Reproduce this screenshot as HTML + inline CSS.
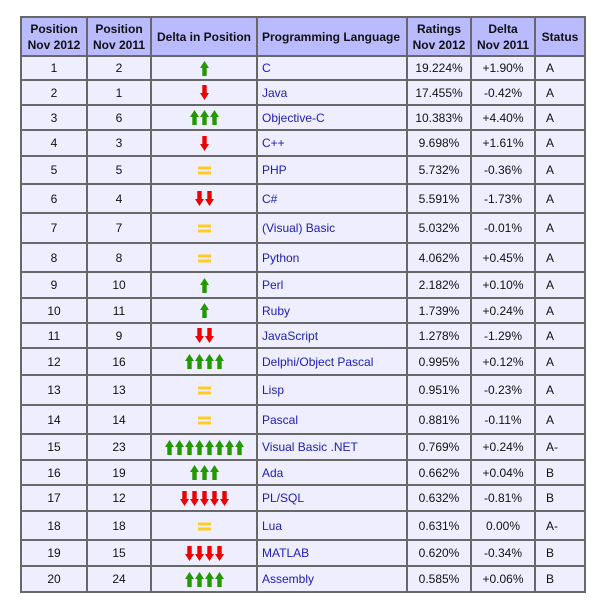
<!DOCTYPE html><html><head><meta charset="utf-8"><style>
body{margin:0;background:#fff;font-family:"Liberation Sans",Arial,sans-serif;}
table{position:absolute;left:20px;top:16px;width:564px;border-collapse:collapse;table-layout:fixed;font-size:12px;}
td,th{border:2px solid #686868;padding:0;text-align:center;color:#111;}
th{background:#babaff;font-weight:bold;font-size:12px;line-height:16px;height:37px;}
td{background:#eeeeff;}
td.l{text-align:left;padding-left:4px;color:#2020b0;}
td.s{text-align:left;padding-left:10px;}
svg{vertical-align:middle;margin:0 .5px;}
</style></head><body>
<svg width="0" height="0" style="position:absolute"><defs>
<symbol id="u" viewBox="0 0 9 15"><polygon points="4.5,0 9,7 6.7,7 6.7,15 2.3,15 2.3,7 0,7" fill="#229900"/></symbol>
<symbol id="d" viewBox="0 0 9 15"><polygon points="4.5,15 9,8 6.7,8 6.7,0 2.3,0 2.3,8 0,8" fill="#ee0000"/></symbol>
<symbol id="e" viewBox="0 0 13 9"><rect x="0" y="0.5" width="13" height="3" fill="#ffcc22"/><rect x="0" y="5.5" width="13" height="3" fill="#ffcc22"/></symbol>
</defs></svg>
<table>
<colgroup><col style="width:66px"><col style="width:64px"><col style="width:106px"><col style="width:150px"><col style="width:64px"><col style="width:64px"><col style="width:50px"></colgroup>
<tr><th>Position<br>Nov 2012</th><th>Position<br>Nov 2011</th><th>Delta in Position</th><th style="text-align:left;padding-left:4px">Programming Language</th><th>Ratings<br>Nov 2012</th><th>Delta<br>Nov 2011</th><th>Status</th></tr>
<tr style="height:24px"><td>1</td><td>2</td><td><svg width="9" height="15"><use href="#u"/></svg></td><td class="l">C</td><td>19.224%</td><td>+1.90%</td><td class="s">A</td></tr>
<tr style="height:25px"><td>2</td><td>1</td><td><svg width="9" height="15"><use href="#d"/></svg></td><td class="l">Java</td><td>17.455%</td><td>-0.42%</td><td class="s">A</td></tr>
<tr style="height:25px"><td>3</td><td>6</td><td><svg width="9" height="15"><use href="#u"/></svg><svg width="9" height="15"><use href="#u"/></svg><svg width="9" height="15"><use href="#u"/></svg></td><td class="l">Objective-C</td><td>10.383%</td><td>+4.40%</td><td class="s">A</td></tr>
<tr style="height:26px"><td>4</td><td>3</td><td><svg width="9" height="15"><use href="#d"/></svg></td><td class="l">C++</td><td>9.698%</td><td>+1.61%</td><td class="s">A</td></tr>
<tr style="height:28px"><td>5</td><td>5</td><td><svg width="13" height="9"><use href="#e"/></svg></td><td class="l">PHP</td><td>5.732%</td><td>-0.36%</td><td class="s">A</td></tr>
<tr style="height:29px"><td>6</td><td>4</td><td><svg width="9" height="15"><use href="#d"/></svg><svg width="9" height="15"><use href="#d"/></svg></td><td class="l">C#</td><td>5.591%</td><td>-1.73%</td><td class="s">A</td></tr>
<tr style="height:30px"><td>7</td><td>7</td><td><svg width="13" height="9"><use href="#e"/></svg></td><td class="l">(Visual) Basic</td><td>5.032%</td><td>-0.01%</td><td class="s">A</td></tr>
<tr style="height:29px"><td>8</td><td>8</td><td><svg width="13" height="9"><use href="#e"/></svg></td><td class="l">Python</td><td>4.062%</td><td>+0.45%</td><td class="s">A</td></tr>
<tr style="height:26px"><td>9</td><td>10</td><td><svg width="9" height="15"><use href="#u"/></svg></td><td class="l">Perl</td><td>2.182%</td><td>+0.10%</td><td class="s">A</td></tr>
<tr style="height:25px"><td>10</td><td>11</td><td><svg width="9" height="15"><use href="#u"/></svg></td><td class="l">Ruby</td><td>1.739%</td><td>+0.24%</td><td class="s">A</td></tr>
<tr style="height:25px"><td>11</td><td>9</td><td><svg width="9" height="15"><use href="#d"/></svg><svg width="9" height="15"><use href="#d"/></svg></td><td class="l">JavaScript</td><td>1.278%</td><td>-1.29%</td><td class="s">A</td></tr>
<tr style="height:27px"><td>12</td><td>16</td><td><svg width="9" height="15"><use href="#u"/></svg><svg width="9" height="15"><use href="#u"/></svg><svg width="9" height="15"><use href="#u"/></svg><svg width="9" height="15"><use href="#u"/></svg></td><td class="l">Delphi/Object Pascal</td><td>0.995%</td><td>+0.12%</td><td class="s">A</td></tr>
<tr style="height:30px"><td>13</td><td>13</td><td><svg width="13" height="9"><use href="#e"/></svg></td><td class="l">Lisp</td><td>0.951%</td><td>-0.23%</td><td class="s">A</td></tr>
<tr style="height:29px"><td>14</td><td>14</td><td><svg width="13" height="9"><use href="#e"/></svg></td><td class="l">Pascal</td><td>0.881%</td><td>-0.11%</td><td class="s">A</td></tr>
<tr style="height:26px"><td>15</td><td>23</td><td><svg width="9" height="15"><use href="#u"/></svg><svg width="9" height="15"><use href="#u"/></svg><svg width="9" height="15"><use href="#u"/></svg><svg width="9" height="15"><use href="#u"/></svg><svg width="9" height="15"><use href="#u"/></svg><svg width="9" height="15"><use href="#u"/></svg><svg width="9" height="15"><use href="#u"/></svg><svg width="9" height="15"><use href="#u"/></svg></td><td class="l">Visual Basic .NET</td><td>0.769%</td><td>+0.24%</td><td class="s">A-</td></tr>
<tr style="height:25px"><td>16</td><td>19</td><td><svg width="9" height="15"><use href="#u"/></svg><svg width="9" height="15"><use href="#u"/></svg><svg width="9" height="15"><use href="#u"/></svg></td><td class="l">Ada</td><td>0.662%</td><td>+0.04%</td><td class="s">B</td></tr>
<tr style="height:26px"><td>17</td><td>12</td><td><svg width="9" height="15"><use href="#d"/></svg><svg width="9" height="15"><use href="#d"/></svg><svg width="9" height="15"><use href="#d"/></svg><svg width="9" height="15"><use href="#d"/></svg><svg width="9" height="15"><use href="#d"/></svg></td><td class="l">PL/SQL</td><td>0.632%</td><td>-0.81%</td><td class="s">B</td></tr>
<tr style="height:29px"><td>18</td><td>18</td><td><svg width="13" height="9"><use href="#e"/></svg></td><td class="l">Lua</td><td>0.631%</td><td>0.00%</td><td class="s">A-</td></tr>
<tr style="height:26px"><td>19</td><td>15</td><td><svg width="9" height="15"><use href="#d"/></svg><svg width="9" height="15"><use href="#d"/></svg><svg width="9" height="15"><use href="#d"/></svg><svg width="9" height="15"><use href="#d"/></svg></td><td class="l">MATLAB</td><td>0.620%</td><td>-0.34%</td><td class="s">B</td></tr>
<tr style="height:26px"><td>20</td><td>24</td><td><svg width="9" height="15"><use href="#u"/></svg><svg width="9" height="15"><use href="#u"/></svg><svg width="9" height="15"><use href="#u"/></svg><svg width="9" height="15"><use href="#u"/></svg></td><td class="l">Assembly</td><td>0.585%</td><td>+0.06%</td><td class="s">B</td></tr>
</table>
</body></html>
